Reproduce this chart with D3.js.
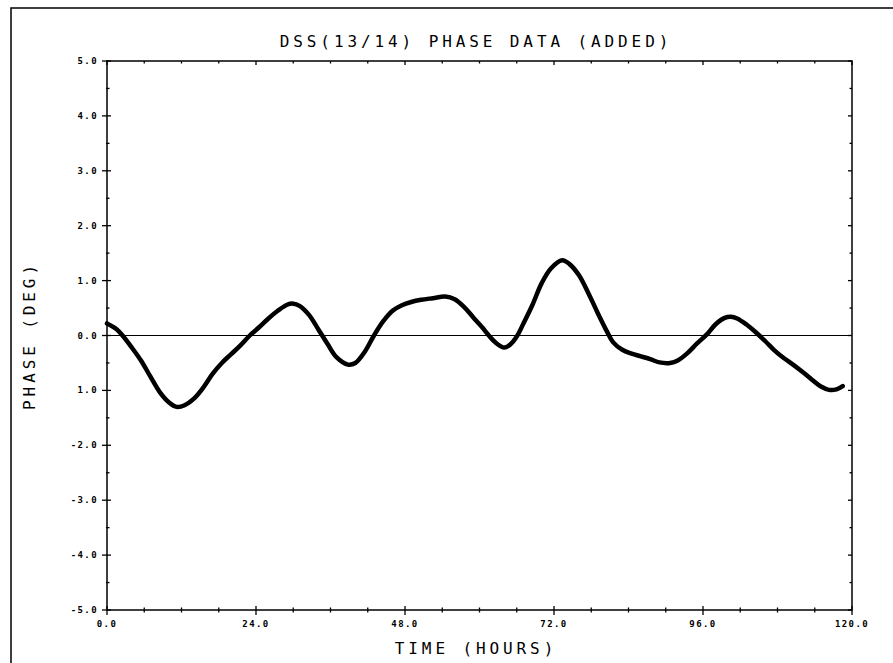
<!DOCTYPE html>
<html lang="en">
<head>
    <meta charset="UTF-8">
    <title>DSS(13/14) Phase Data</title>
    <script src="https://d3js.org/d3.v7.min.js"></script>
    <style>
        body {
            margin: 0;
            padding: 0;
            background: white;
        }
        svg {
            display: block;
        }
        .plotter {
            font-family: "DejaVu Sans Mono", monospace;
            fill: black;
        }
        .tick-label {
            font-size: 9px;
            font-weight: bold;
            letter-spacing: 1.4px;
        }
        .big-label {
            font-size: 16px;
            letter-spacing: 3.9px;
        }
    </style>
</head>
<body>
    <svg id="chart" width="893" height="663"></svg>

    <script>
        // phase curve: hours, degrees
        let hours = [0, 1.5, 2.5, 4, 5.5, 7, 8.5, 10, 11.2, 12.5, 14, 15.5, 17, 18.5, 20, 21.5,
            23, 24.5, 26, 27.5, 29, 30, 31, 32.5, 34, 35.5, 37, 38.8, 40, 41.5, 43, 44.5,
            46, 47.5, 49, 50.6, 52.5, 54.5, 56, 57.5, 59, 60.5, 61.5, 62.5, 64, 65, 66,
            67, 68.5, 70, 71.5, 73.3, 74.5, 76, 77.5, 79, 80.5, 81.5, 83, 84.5, 86, 87.5,
            89, 90.7, 92, 93.5, 95, 96.7, 98, 99.5, 100.5, 101.5, 103, 104.5, 106, 107.5,
            109, 110.5, 112, 113.5, 115, 116.3, 117.5, 118.5];
        let phase = [0.22, 0.12, 0.0, -0.22, -0.46, -0.75, -1.03, -1.22, -1.30, -1.27, -1.15, -0.95,
            -0.70, -0.50, -0.34, -0.18, 0.0, 0.15, 0.31, 0.45, 0.56, 0.58, 0.54, 0.38, 0.12,
            -0.15, -0.40, -0.53, -0.50, -0.30, 0.0, 0.26, 0.45, 0.55, 0.61, 0.65, 0.68, 0.71,
            0.66, 0.52, 0.33, 0.14, 0.0, -0.12, -0.22, -0.16, -0.02, 0.20, 0.55, 0.95, 1.22, 1.37,
            1.30, 1.10, 0.78, 0.42, 0.08, -0.12, -0.26, -0.33, -0.38, -0.43, -0.49, -0.50,
            -0.45, -0.32, -0.15, 0.03, 0.20, 0.32, 0.34, 0.31, 0.20, 0.06, -0.10, -0.27, -0.41,
            -0.53, -0.66, -0.80, -0.93, -0.99, -0.98, -0.92];

        let xTicks = [0, 24, 48, 72, 96, 120];
        let xTickLabels = ["0.0", "24.0", "48.0", "72.0", "96.0", "120.0"];
        let yTicks = [5, 4, 3, 2, 1, 0, -1, -2, -3, -4, -5];
        let yTickLabels = ["5.0", "4.0", "3.0", "2.0", "1.0", "0.0", "1.0", "-2.0", "-3.0", "-4.0", "-5.0"];

        let svg = d3.select("#chart");
        let plotLeft = 107, plotRight = 852, plotTop = 61, plotBottom = 610;

        let x = d3.scaleLinear().domain([0, 120]).range([plotLeft, plotRight]);
        let y = d3.scaleLinear().domain([-5, 5]).range([plotBottom, plotTop]);

        // outer page frame
        svg.append("rect")
            .attr("x", 11).attr("y", 8)
            .attr("width", 1000).attr("height", 1000)
            .attr("fill", "none")
            .attr("stroke", "black")
            .attr("stroke-width", 1.5);

        // plot box
        svg.append("rect")
            .attr("x", plotLeft).attr("y", plotTop)
            .attr("width", plotRight - plotLeft).attr("height", plotBottom - plotTop)
            .attr("fill", "none")
            .attr("stroke", "black")
            .attr("stroke-width", 1.5);

        // y ticks, major every unit, minor every half unit
        let yMinor = d3.range(-5, 5.01, 0.5);
        yMinor.forEach(v => {
            let major = Math.abs(v - Math.round(v)) < 1e-6;
            let len = major ? 4 : 2.5;
            svg.append("line")
                .attr("x1", plotLeft - (major ? 5 : 1)).attr("x2", plotLeft + len)
                .attr("y1", y(v)).attr("y2", y(v))
                .attr("stroke", "black").attr("stroke-width", 1.3);
            svg.append("line")
                .attr("x1", plotRight - len).attr("x2", plotRight)
                .attr("y1", y(v)).attr("y2", y(v))
                .attr("stroke", "black").attr("stroke-width", 1.3);
        });

        // x ticks, major every 24 h, minor every 6 h
        let xMinor = d3.range(0, 120.01, 6);
        xMinor.forEach(t => {
            let major = t % 24 === 0;
            let len = major ? 4 : 2.5;
            svg.append("line")
                .attr("x1", x(t)).attr("x2", x(t))
                .attr("y1", plotBottom - len).attr("y2", plotBottom + (major ? 5 : 2.5))
                .attr("stroke", "black").attr("stroke-width", 1.3);
            svg.append("line")
                .attr("x1", x(t)).attr("x2", x(t))
                .attr("y1", plotTop).attr("y2", plotTop + len)
                .attr("stroke", "black").attr("stroke-width", 1.3);
        });

        yTicks.forEach((v, i) => {
            svg.append("text")
                .attr("class", "plotter tick-label")
                .attr("x", plotLeft - 9)
                .attr("y", y(v) + 3)
                .attr("text-anchor", "end")
                .text(yTickLabels[i]);
        });

        xTicks.forEach((t, i) => {
            svg.append("text")
                .attr("class", "plotter tick-label")
                .attr("x", x(t))
                .attr("y", plotBottom + 17)
                .attr("text-anchor", "middle")
                .text(xTickLabels[i]);
        });

        // zero reference line
        svg.append("line")
            .attr("x1", plotLeft).attr("x2", plotRight)
            .attr("y1", y(0)).attr("y2", y(0))
            .attr("stroke", "black")
            .attr("stroke-width", 1.2);

        let line = d3.line()
            .x((d, i) => x(hours[i]))
            .y(d => y(d))
            .curve(d3.curveCatmullRom);

        svg.append("path")
            .datum(phase)
            .attr("d", line)
            .attr("fill", "none")
            .attr("stroke", "black")
            .attr("stroke-width", 4.5)
            .attr("stroke-linecap", "round")
            .attr("stroke-linejoin", "round");

        svg.append("text")
            .attr("class", "plotter big-label")
            .attr("x", 476)
            .attr("y", 47)
            .attr("text-anchor", "middle")
            .text("DSS(13/14) PHASE DATA (ADDED)");

        svg.append("text")
            .attr("class", "plotter big-label")
            .attr("x", 476)
            .attr("y", 654)
            .attr("text-anchor", "middle")
            .text("TIME (HOURS)");

        svg.append("text")
            .attr("class", "plotter big-label")
            .attr("transform", "translate(35," + y(0) + ") rotate(-90)")
            .attr("text-anchor", "middle")
            .text("PHASE (DEG)");
    </script>
</body>
</html>
